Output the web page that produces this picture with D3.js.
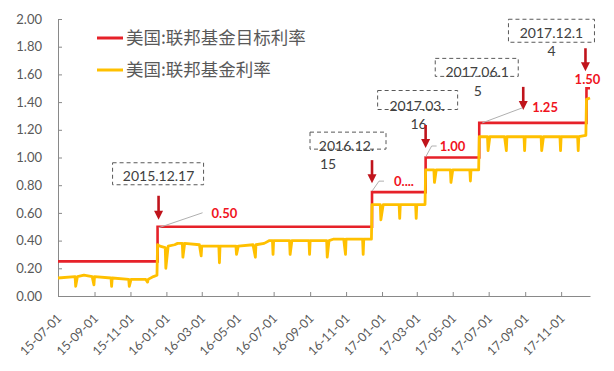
<!DOCTYPE html>
<html>

<head>
    <meta charset="utf-8" />
    <script src="https://d3js.org/d3.v7.min.js"></script>
    <style>
        body { margin: 0; background: #fff; }
        text { font-family: Lato, "Open Sans", sans-serif; }
        .axis path, .axis line { stroke: #898989; }
        .axis text { fill: #595959; }
        .legend text { font-family: "Noto Sans CJK SC", sans-serif; fill: #595959; }
    </style>
</head>

<body>
    <script>
        // series names (legend)
        const seriesNames = ['美国:联邦基金目标利率', '美国:联邦基金利率'];

        // fed funds target rate (upper bound), step changes
        const targetDates = ['2015-07-01', '2015-12-17', '2016-12-15', '2017-03-16', '2017-06-15', '2017-12-14'];
        const targetRates = [0.25, 0.50, 0.75, 1.00, 1.25, 1.50];
        const lastDate = '2017-12-20';

        // effective fed funds rate (month-end dips included)
        const effrSeries = [
            ['2015-07-01', 0.13], ['2015-07-30', 0.14], ['2015-07-31', 0.07], ['2015-08-03', 0.14], ['2015-08-14', 0.15],
            ['2015-08-28', 0.14], ['2015-08-31', 0.08], ['2015-09-01', 0.14], ['2015-09-29', 0.13], ['2015-09-30', 0.07],
            ['2015-10-01', 0.13], ['2015-10-29', 0.12], ['2015-10-30', 0.07], ['2015-11-02', 0.12], ['2015-11-27', 0.12],
            ['2015-11-30', 0.10], ['2015-12-01', 0.12], ['2015-12-10', 0.14], ['2015-12-16', 0.15],
            ['2015-12-17', 0.37], ['2015-12-21', 0.36], ['2015-12-30', 0.35], ['2015-12-31', 0.20], ['2016-01-04', 0.36],
            ['2016-01-15', 0.37], ['2016-01-20', 0.38], ['2016-01-28', 0.38], ['2016-01-29', 0.28], ['2016-02-01', 0.38],
            ['2016-02-26', 0.37], ['2016-02-29', 0.29], ['2016-03-01', 0.36], ['2016-03-30', 0.36], ['2016-03-31', 0.24],
            ['2016-04-01', 0.36], ['2016-04-28', 0.36], ['2016-04-29', 0.30], ['2016-05-02', 0.36], ['2016-05-27', 0.37],
            ['2016-05-31', 0.28], ['2016-06-01', 0.37], ['2016-06-15', 0.38], ['2016-06-24', 0.40], ['2016-06-29', 0.40],
            ['2016-06-30', 0.30], ['2016-07-01', 0.40], ['2016-07-28', 0.40], ['2016-07-29', 0.30], ['2016-08-01', 0.40],
            ['2016-08-30', 0.40], ['2016-08-31', 0.30], ['2016-09-01', 0.40], ['2016-09-29', 0.40], ['2016-09-30', 0.28],
            ['2016-10-03', 0.40], ['2016-10-10', 0.41], ['2016-10-28', 0.41], ['2016-10-31', 0.30], ['2016-11-01', 0.41],
            ['2016-11-29', 0.41], ['2016-11-30', 0.30], ['2016-12-01', 0.41], ['2016-12-14', 0.41],
            ['2016-12-15', 0.66], ['2016-12-29', 0.66], ['2016-12-30', 0.55], ['2017-01-03', 0.66], ['2017-01-30', 0.66],
            ['2017-01-31', 0.56], ['2017-02-01', 0.66], ['2017-02-27', 0.66], ['2017-02-28', 0.56], ['2017-03-01', 0.66],
            ['2017-03-15', 0.66],
            ['2017-03-16', 0.91], ['2017-03-30', 0.91], ['2017-03-31', 0.82], ['2017-04-03', 0.91], ['2017-04-27', 0.91],
            ['2017-04-28', 0.82], ['2017-05-01', 0.91], ['2017-05-30', 0.91], ['2017-05-31', 0.83], ['2017-06-01', 0.91],
            ['2017-06-14', 0.91],
            ['2017-06-15', 1.15], ['2017-06-29', 1.15], ['2017-06-30', 1.05], ['2017-07-03', 1.15], ['2017-07-28', 1.15],
            ['2017-07-31', 1.05], ['2017-08-01', 1.15], ['2017-08-30', 1.15], ['2017-08-31', 1.05], ['2017-09-01', 1.15],
            ['2017-09-28', 1.15], ['2017-09-29', 1.05], ['2017-10-02', 1.15], ['2017-10-30', 1.15], ['2017-10-31', 1.05],
            ['2017-11-01', 1.15], ['2017-11-29', 1.15], ['2017-11-30', 1.05], ['2017-12-01', 1.15], ['2017-12-13', 1.16],
            ['2017-12-14', 1.42], ['2017-12-20', 1.43]
        ];

        // axis ticks
        const xTickLabels = ['15-07-01', '15-09-01', '15-11-01', '16-01-01', '16-03-01', '16-05-01', '16-07-01', '16-09-01',
            '16-11-01', '17-01-01', '17-03-01', '17-05-01', '17-07-01', '17-09-01', '17-11-01'];
        const yTicks = [0, 0.2, 0.4, 0.6, 0.8, 1.0, 1.2, 1.4, 1.6, 1.8, 2.0];

        // hike callouts: date of hike, new target, text in the dashed box, red label
        const calloutDates = ['2015-12-17', '2016-12-15', '2017-03-16', '2017-06-15', '2017-12-14'];
        const calloutRates = [0.50, 0.75, 1.00, 1.25, 1.50];
        const calloutBoxText = [['2015.12.17'], ['2016.12.', '15'], ['2017.03.', '16'], ['2017.06.1', '5'], ['2017.12.1', '4']];
        const calloutLabels = ['0.50', '0....', '1.00', '1.25', '1.50'];

        // callout layout, offsets from the point (x(date), y(rate))
        const calloutLayout = [
            { box: [-45, -64, 91, 22], lines: [[1, -46]], arrow: [1, -31, -7], leader: [[1, 1], [45, -14]], label: [54, -9, 'start'] },
            { box: [-62, -60, 76, 17], lines: [[-25.5, -41.5], [-44, -23]], arrow: [0, -32, -9], leader: [[0, -1], [7, -11], [12, -11]], label: [22, -6, 'start'] },
            { box: [-48, -67, 80, 19], lines: [[-8.5, -47], [-7, -28.5]], arrow: [0, -32.5, -9.5], leader: [[0, -0.5], [6, -11.5], [11, -11.5]], label: [14, -7, 'start'] },
            { box: [-44, -64.5, 83, 18], lines: [[-2, -46], [-1.5, -26.5]], arrow: [44, -36, -13], leader: [[3, 0], [43, -15]], label: [53, -11, 'start'] },
            { box: [-78, -69, 86, 23], lines: [[-35, -50], [-35, -32]], arrow: [-1, -40, -17], leader: null, label: [1, -4, 'middle'] }
        ];

        const W = 614, H = 371;
        const parseDate = d3.timeParse('%Y-%m-%d');
        const parseTick = d3.timeParse('%y-%m-%d');

        const svg = d3.select('body').append('svg')
            .attr('width', W)
            .attr('height', H);

        const x = d3.scaleTime()
            .domain([parseDate('2015-07-01'), parseDate(lastDate)])
            .range([58, 590]);
        const y = d3.scaleLinear().domain([0, 2]).range([296, 19]);

        // axes
        const yAxis = svg.append('g')
            .attr('class', 'axis')
            .attr('transform', `translate(${x.range()[0]},0)`)
            .call(d3.axisLeft(y).tickValues(yTicks).tickSize(-4).tickSizeOuter(0).tickPadding(16).tickFormat(d3.format('.2f')));
        yAxis.selectAll('text').style('font-size', '13px');

        const xAxis = svg.append('g')
            .attr('class', 'axis')
            .attr('transform', `translate(0,${y(0)})`)
            .call(d3.axisBottom(x).tickValues(xTickLabels.map(parseTick)).tickSize(-4).tickSizeOuter(0)
                .tickFormat(d3.timeFormat('%y-%m-%d')));
        xAxis.selectAll('text')
            .attr('x', 0).attr('y', 0).attr('dy', 0)
            .attr('transform', 'translate(4,23) rotate(-45)')
            .style('text-anchor', 'end')
            .style('font-size', '12.5px');

        // target rate step line
        const targetData = targetDates.map((d, i) => [parseDate(d), targetRates[i]]);
        targetData.push([parseDate(lastDate), targetRates[targetRates.length - 1]]);

        svg.append('path')
            .datum(targetData)
            .attr('fill', 'none')
            .attr('stroke', '#e62129')
            .attr('stroke-width', 2.6)
            .attr('d', d3.line().x(d => x(d[0])).y(d => y(d[1])).curve(d3.curveStepAfter));

        // effective rate
        svg.append('path')
            .datum(effrSeries.map(d => [parseDate(d[0]), d[1]]))
            .attr('fill', 'none')
            .attr('stroke', '#ffc000')
            .attr('stroke-width', 2.8)
            .attr('stroke-linejoin', 'round')
            .attr('d', d3.line().x(d => x(d[0])).y(d => y(d[1])));

        // legend
        const legend = svg.append('g').attr('class', 'legend');
        const legendColors = ['#e62129', '#ffc000'];
        seriesNames.forEach((name, i) => {
            const ly = 38 + i * 32;
            legend.append('line')
                .attr('x1', 97).attr('x2', 123)
                .attr('y1', ly).attr('y2', ly)
                .attr('stroke', legendColors[i])
                .attr('stroke-width', 3);
            legend.append('text')
                .attr('x', 126).attr('y', ly)
                .attr('dy', '0.36em')
                .style('font-size', '17.5px')
                .text(name);
        });

        // callouts
        calloutDates.forEach((d, i) => {
            const ax = x(parseDate(d));
            const ay = y(calloutRates[i]);
            const L = calloutLayout[i];
            const g = svg.append('g');

            g.append('rect')
                .attr('x', ax + L.box[0]).attr('y', ay + L.box[1])
                .attr('width', L.box[2]).attr('height', L.box[3])
                .attr('fill', 'none')
                .attr('stroke', '#595959')
                .attr('stroke-width', 1)
                .attr('stroke-dasharray', '4,3');

            calloutBoxText[i].forEach((t, j) => {
                g.append('text')
                    .attr('x', ax + L.lines[j][0]).attr('y', ay + L.lines[j][1])
                    .style('text-anchor', 'middle')
                    .style('font-size', '14px')
                    .style('fill', '#404040')
                    .text(t);
            });

            // arrow pointing at the hike
            const axx = ax + L.arrow[0];
            g.append('line')
                .attr('x1', axx).attr('x2', axx)
                .attr('y1', ay + L.arrow[1]).attr('y2', ay + L.arrow[2] - 7)
                .attr('stroke', '#c0141c')
                .attr('stroke-width', 2.6);
            const tip = ay + L.arrow[2];
            g.append('path')
                .attr('d', `M${axx - 4.5},${tip - 9}L${axx + 4.5},${tip - 9}L${axx},${tip}Z`)
                .attr('fill', '#c0141c');

            if (L.leader) {
                g.append('path')
                    .attr('d', d3.line()(L.leader.map(p => [ax + p[0], ay + p[1]])))
                    .attr('fill', 'none')
                    .attr('stroke', '#b0b0b0')
                    .attr('stroke-width', 1);
            }

            g.append('text')
                .attr('x', ax + L.label[0]).attr('y', ay + L.label[1])
                .style('text-anchor', L.label[2])
                .style('font-size', '13px')
                .style('font-weight', 'bold')
                .style('fill', '#f0141e')
                .text(calloutLabels[i]);
        });
    </script>
</body>

</html>
